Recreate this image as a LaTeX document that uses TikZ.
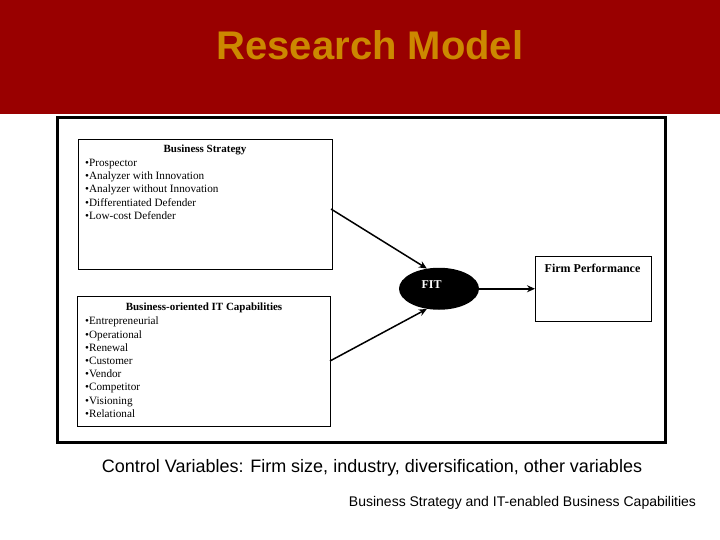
\documentclass[tikz,border=0pt]{standalone}
\usepackage{fontspec}
\setmainfont{Liberation Serif}
\setsansfont{Liberation Sans}
\usetikzlibrary{calc,positioning,shapes,arrows.meta}
\definecolor{bandred}{RGB}{153,0,0}
\definecolor{titlegold}{RGB}{204,136,0}
\tikzstyle{TextBox} = [inner sep=0pt, align=left, anchor=north west,
    font=\fontsize{11.2}{13.2}\selectfont]
\tikzstyle{BoxTitle} = [inner sep=0pt, font=\fontsize{11}{13.2}\selectfont\bfseries]
\tikzstyle{SlideText} = [inner sep=0pt, font=\sffamily]
\tikzstyle{arrow} = [line width=1.5pt,-{Stealth[length=8pt,width=7pt]}]

\begin{document}
\begin{tikzpicture}[x=1pt,y=-1pt]
        \useasboundingbox (0,0) rectangle (720,540);
        \fill [white] (0,0) rectangle (720,540);
        \fill [bandred] (0,0) rectangle (720,114) node[pos=0.5] (Band) {}; %title band
        \node [SlideText, font=\sffamily\bfseries\fontsize{40}{40}\selectfont, text=titlegold] (Title) at (370,45.5) {Research Model};
        \draw [line width=3pt] (57.5,117.5) rectangle (665,442) node[pos=0.5] (Frame) {}; %outer frame
        \draw [] (78.5,139.5) rectangle (332,269) node[pos=0.5] (Strategy) {}; %strategy box
        \draw [] (77.5,296.5) rectangle (330,426) node[pos=0.5] (Capabilities) {}; %capabilities box
        \draw [] (535,256.5) rectangle (651.5,321) node[pos=0.5] (Performance) {}; %performance box
        \node [ellipse, fill=black, inner sep=0pt, minimum width=80pt, minimum height=42pt] (Fit) at (439,288.75) {};
        \node [BoxTitle] (StrategyTitle) at (205,150) {Business Strategy};
        \node [TextBox] (StrategyList) at (85,159) {
            •Prospector\\
            •Analyzer with Innovation\\
            •Analyzer without Innovation\\
            •Differentiated Defender\\
            •Low-cost Defender
        };
        \node [BoxTitle] (CapabilitiesTitle) at (204,308) {Business-oriented IT Capabilities};
        \node [TextBox] (CapabilitiesList) at (85,317) {
            •Entrepreneurial\\
            •Operational\\
            •Renewal\\
            •Customer\\
            •Vendor\\
            •Competitor\\
            •Visioning\\
            •Relational
        };
        \node [BoxTitle, font=\fontsize{12}{13.2}\selectfont\bfseries] (PerformanceTitle) at (592.5,268) {Firm Performance};
        \node [BoxTitle, text=white, font=\fontsize{12}{13.2}\selectfont\bfseries] (FitTitle) at (431.5,285) {FIT};
        \coordinate (StrategyOut) at (331,209);
        \coordinate (CapabilitiesOut) at (330,361);
        \draw [arrow] (StrategyOut) -- (Fit.121);
        \draw [arrow] (CapabilitiesOut) -- (Fit.239);
        \draw [arrow] (Fit.east) -- (Performance.center -| 535,0);
        \node [SlideText, font=\sffamily\fontsize{18}{18}\selectfont] (Controls) at (372,468) {Control Variables: Firm size, industry, diversification, other variables};
        \node [SlideText, font=\sffamily\fontsize{14}{14}\selectfont] (Footer) at (522.5,503) {Business Strategy and IT-enabled Business Capabilities};
    \end{tikzpicture}
\end{document}
